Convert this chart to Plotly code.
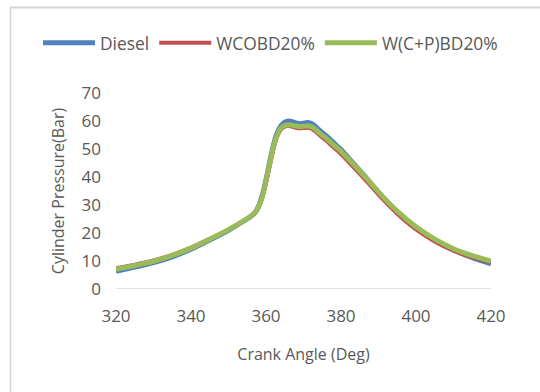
import plotly.graph_objects as go

crank_angle = [320, 325, 330, 335, 340, 345, 350, 354, 356, 357, 358, 359, 360, 361, 362, 363,
               364, 365, 366, 367, 368, 369, 370, 371, 372, 373, 374, 376, 378, 380, 383, 386,
               390, 395, 400, 405, 410, 415, 420]

diesel = [6.3, 7.8, 9.4, 11.5, 14.2, 17.5, 21.0, 24.2, 26.0, 27.2, 29.5, 33.5, 39.0, 45.5, 51.5, 55.8,
          58.3, 59.6, 60.0, 59.8, 59.3, 59.0, 59.2, 59.5, 59.2, 58.3, 57.0, 54.8, 52.3, 49.8, 45.3, 40.8,
          34.5, 27.5, 21.7, 17.3, 13.9, 11.2, 9.0]

wcobd20 = [7.4, 8.7, 10.2, 12.2, 14.8, 17.9, 21.2, 24.3, 26.0, 27.0, 29.0, 32.5, 37.8, 44.0, 50.0, 54.5,
           57.0, 58.0, 58.3, 58.0, 57.6, 57.4, 57.5, 57.6, 57.4, 56.5, 55.3, 53.0, 50.6, 48.2, 44.0, 39.7,
           33.7, 26.9, 21.3, 17.0, 13.7, 11.3, 9.5]

wcpbd20 = [7.0, 8.4, 9.9, 12.0, 14.6, 17.8, 21.2, 24.3, 26.1, 27.2, 29.3, 33.0, 38.5, 44.8, 50.8, 55.0,
           57.5, 58.4, 58.7, 58.5, 58.2, 58.0, 58.1, 58.3, 58.0, 57.2, 56.0, 53.9, 51.5, 49.2, 45.0, 40.7,
           34.6, 27.8, 22.2, 17.8, 14.4, 11.9, 10.0]

x_ticks = [320, 340, 360, 380, 400, 420]
y_ticks = [0, 10, 20, 30, 40, 50, 60, 70]

font_family = "Open Sans, Liberation Sans, sans-serif"
txt = "#595959"
frame = "#D4D4D4"

fig = go.Figure()
fig.add_trace(go.Scatter(x=crank_angle, y=diesel, mode="lines", name="Diesel",
                         line=dict(color="#4F81BD", width=5, shape="spline", smoothing=0.6)))
fig.add_trace(go.Scatter(x=crank_angle, y=wcobd20, mode="lines", name="WCOBD20%",
                         line=dict(color="#C0504D", width=4, shape="spline", smoothing=0.6)))
fig.add_trace(go.Scatter(x=crank_angle, y=wcpbd20, mode="lines", name="W(C+P)BD20%",
                         line=dict(color="#9BBB59", width=5, shape="spline", smoothing=0.6)))

L, R, T, B = 116, 49, 93, 103
W, H = 540, 392
pw, ph = W - L - R, H - T - B

fig.update_layout(
    width=W, height=H,
    margin=dict(l=L, r=R, t=T, b=B),
    paper_bgcolor="white", plot_bgcolor="white",
    font=dict(family=font_family, color=txt, size=17),
    showlegend=True,
    legend=dict(orientation="h", x=(38 - L) / pw, xanchor="left",
                y=1 + (T - 43) / ph, yanchor="middle",
                font=dict(size=17.4, color=txt), itemwidth=52, tracegroupgap=0,
                bgcolor="rgba(0,0,0,0)"),
    xaxis=dict(range=[320, 420], tickvals=x_ticks, showgrid=False, zeroline=False,
               showline=False, ticks="", tickfont=dict(size=17, color=txt), ticklabelstandoff=15,
               title=dict(text="Crank Angle (Deg)", font=dict(size=16, color=txt), standoff=22)),
    yaxis=dict(range=[0, 70], tickvals=y_ticks, showgrid=False, zeroline=False,
               showline=False, ticks="", tickfont=dict(size=17, color=txt), ticklabelstandoff=14,
               title=dict(text="Cylinder Pressure(Bar)", font=dict(size=16, color=txt), standoff=12)),
    shapes=[
        dict(type="line", xref="x", yref="y", x0=320, x1=420, y0=0, y1=0,
             line=dict(color="#D9D9D9", width=1.5), layer="below"),
        dict(type="line", xref="paper", yref="paper",
             x0=(10.5 - L) / pw, x1=(10.5 - L) / pw, y0=1 + (T - 7) / ph, y1=-(B + 20) / ph,
             line=dict(color=frame, width=1.5)),
        dict(type="line", xref="paper", yref="paper",
             x0=(10 - L) / pw, x1=(W + 20 - L) / pw, y0=1 + (T - 7.5) / ph, y1=1 + (T - 7.5) / ph,
             line=dict(color=frame, width=2)),
    ],
)

fig.write_html("out.html", config={"displayModeBar": False},
               post_script="document.body.style.margin='0';")
